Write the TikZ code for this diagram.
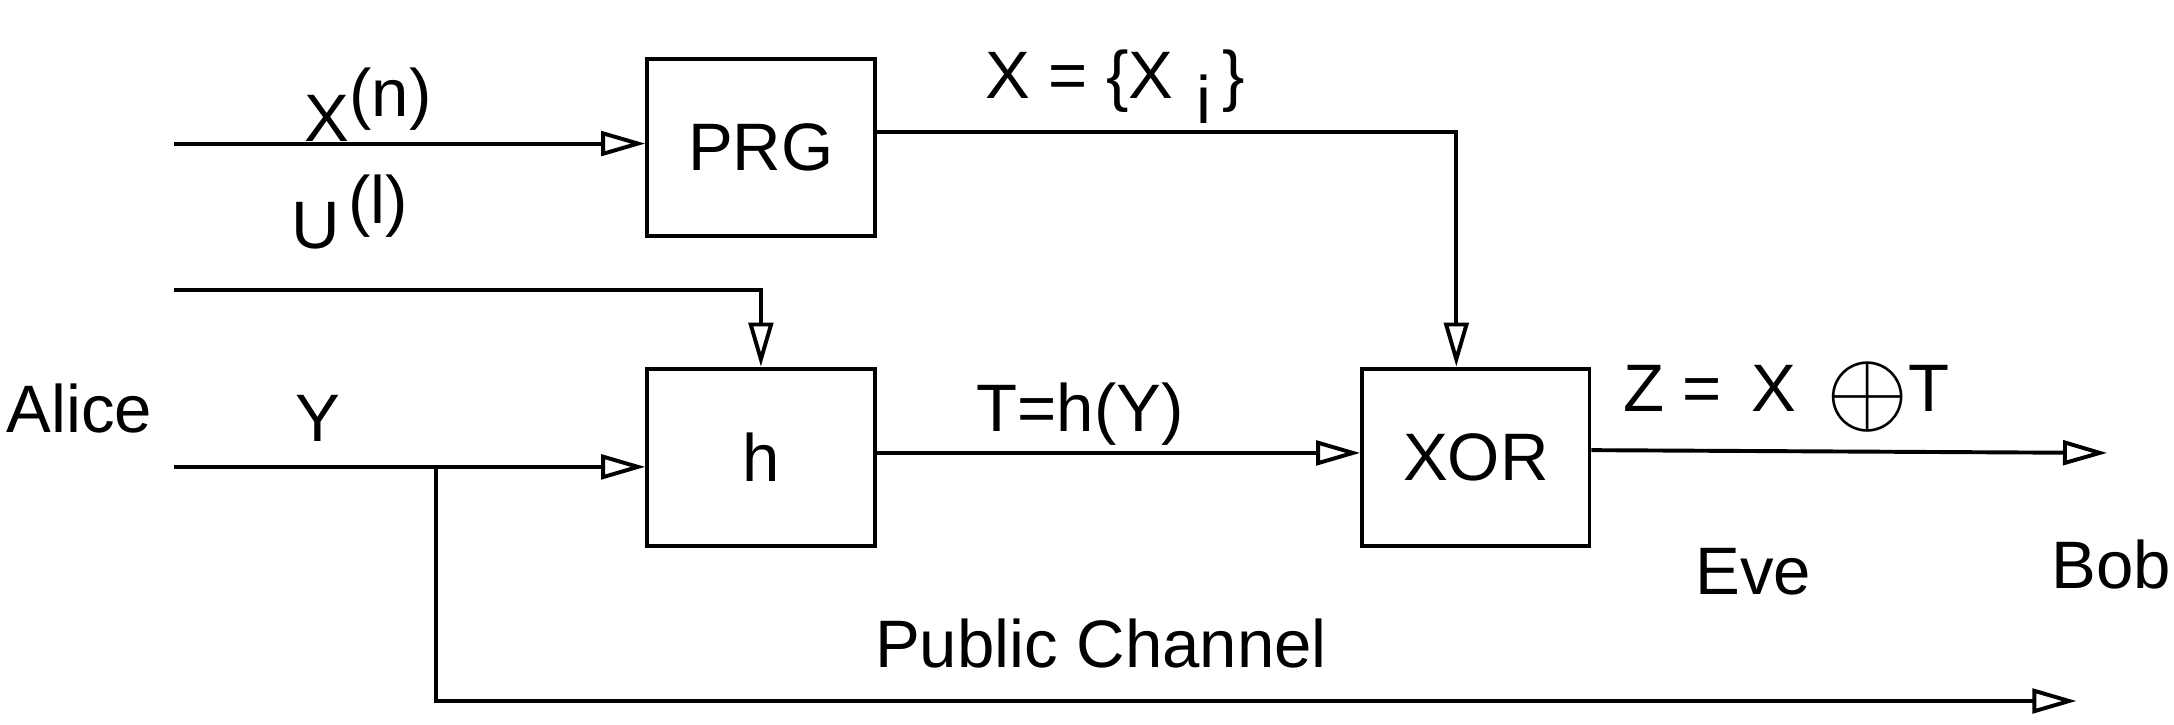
\documentclass[tikz,border=0pt]{standalone}
\usepackage{fontspec}
\setmainfont{Liberation Sans}
\usetikzlibrary{arrows.meta}
\begin{document}
\begin{tikzpicture}[x=0.01cm,y=-0.01cm]
     \tikzstyle{block}=[draw, line width=0.8pt, minimum width=1.63cm, minimum height=1.27cm, font=\fontsize{13.7}{16}\selectfont]
     \tikzstyle{wire}=[line width=0.8pt]
     \tikzstyle{sig}=[wire, -{Triangle[open,length=9pt,width=5pt]}]
     \tikzstyle{lbl}=[font=\fontsize{13.7}{16}\selectfont]
     \useasboundingbox (0,0) rectangle (1560,520);
     \node[block] (prg) at (546,106) {PRG};
     \node[block] (h) at (546,328) {h};
     \node[block] (xor) at (1059,328) {XOR};
     \coordinate (xin) at (125,103);
     \coordinate (uin) at (125,208);
     \coordinate (yin) at (125,335);
     \coordinate (tap) at (313,335);
     \coordinate (bob) at (1512,325);
     \coordinate (pub) at (1490,503);
     \draw[sig] (xin) -- (xin -| prg.west);
     \draw[sig] (uin) -| (h.north);
     \draw[sig] (yin) -- (yin -| h.west);
     \draw[sig] (prg.east |- 0,95) -| (1045,0 |- xor.north);
     \draw[sig] (h.east |- 0,325) -- (xor.west |- 0,325);
     \draw[sig] (xor.east |- 0,323) -- (bob);
     \draw[sig] (tap) |- (pub);
     \node[lbl] (alice) at (57,293) {Alice};
     \node[lbl] (xlbl) at (265,75) {X$^{\textrm{(n)}}$};
     \node[lbl] (ulbl) at (252,152) {U$^{\,\textrm{(l)}}$};
     \node[lbl] (ylbl) at (228,300) {Y};
     \node[lbl] (xilbl) at (800,62) {X = \{X\,\raisebox{-0.7ex}{\,i\,}\}};
     \node[lbl] (tlbl) at (775,297) {T=h(Y)};
     \node[lbl] (zlbl) at (1282,285) {Z =\, X\, \raisebox{-0.35ex}{\scalebox{1.5}{$\oplus$}}T};
     \node[lbl] (eve) at (1258,410) {Eve};
     \node[lbl] (boblbl) at (1515,405) {Bob};
     \node[lbl] (publbl) at (790,462) {Public Channel};
\end{tikzpicture}
\end{document}
